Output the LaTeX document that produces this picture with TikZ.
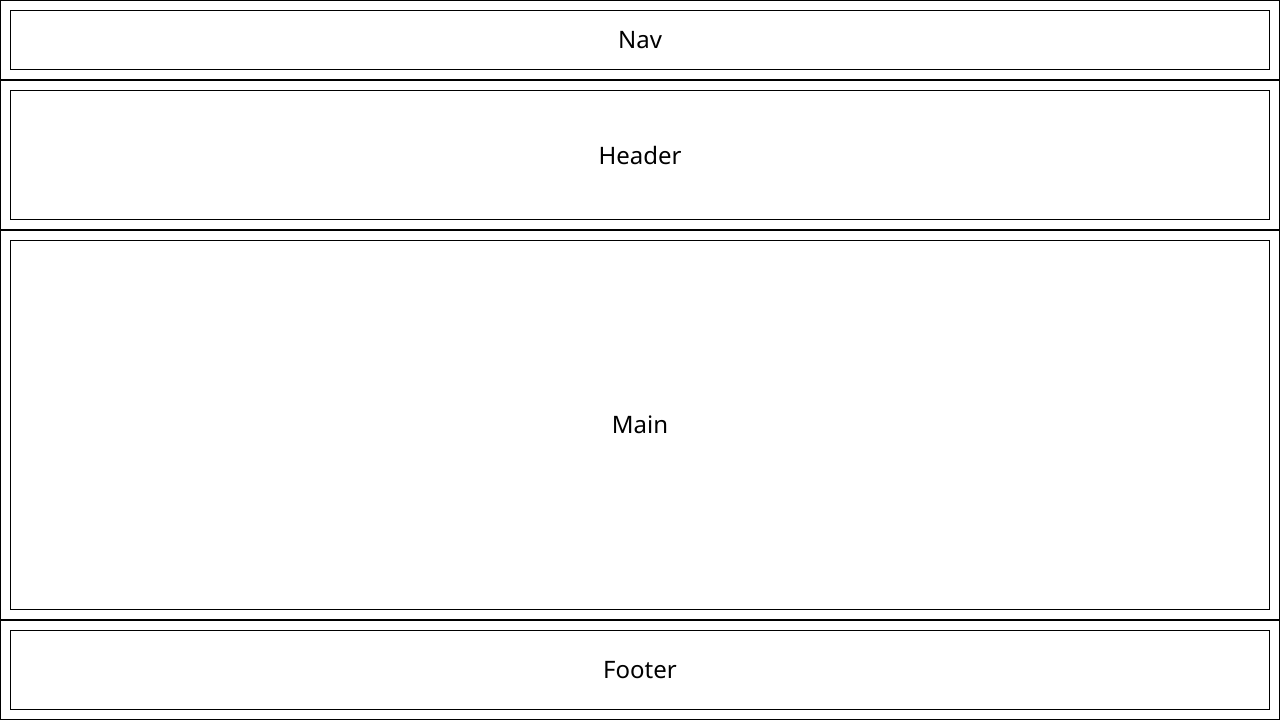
\documentclass[tikz,border=0pt]{standalone}
\usepackage{fontspec}
\setmainfont{Noto Sans}
\begin{document}
\begin{tikzpicture}[x=1pt,y=-1pt,
  outerbox/.style={draw=black,line width=1pt,inner sep=0pt,outer sep=0pt,fill=none},
  innerbox/.style={draw=black,line width=1pt,inner sep=0pt,outer sep=0pt,font=\fontsize{24}{28}\selectfont,text=black}]
\useasboundingbox[fill=white] (0,0) rectangle (1280,720);
% outer rows
\node[outerbox,minimum width=1279pt,minimum height=79pt] (navO) at (640,40) {};
\node[outerbox,minimum width=1279pt,minimum height=149pt] (headO) at (640,155) {};
\node[outerbox,minimum width=1279pt,minimum height=389pt] (mainO) at (640,425) {};
\node[outerbox,minimum width=1279pt,minimum height=99pt] (footO) at (640,670) {};
% inner boxes
\node[innerbox,minimum width=1259pt,minimum height=59pt] (nav) at (640,40) {Nav};
\node[innerbox,minimum width=1259pt,minimum height=129pt] (head) at (640,155) {Header};
\node[innerbox,minimum width=1259pt,minimum height=369pt] (main) at (640,425) {Main};
\node[innerbox,minimum width=1259pt,minimum height=79pt] (foot) at (640,670) {Footer};
\end{tikzpicture}
\end{document}
